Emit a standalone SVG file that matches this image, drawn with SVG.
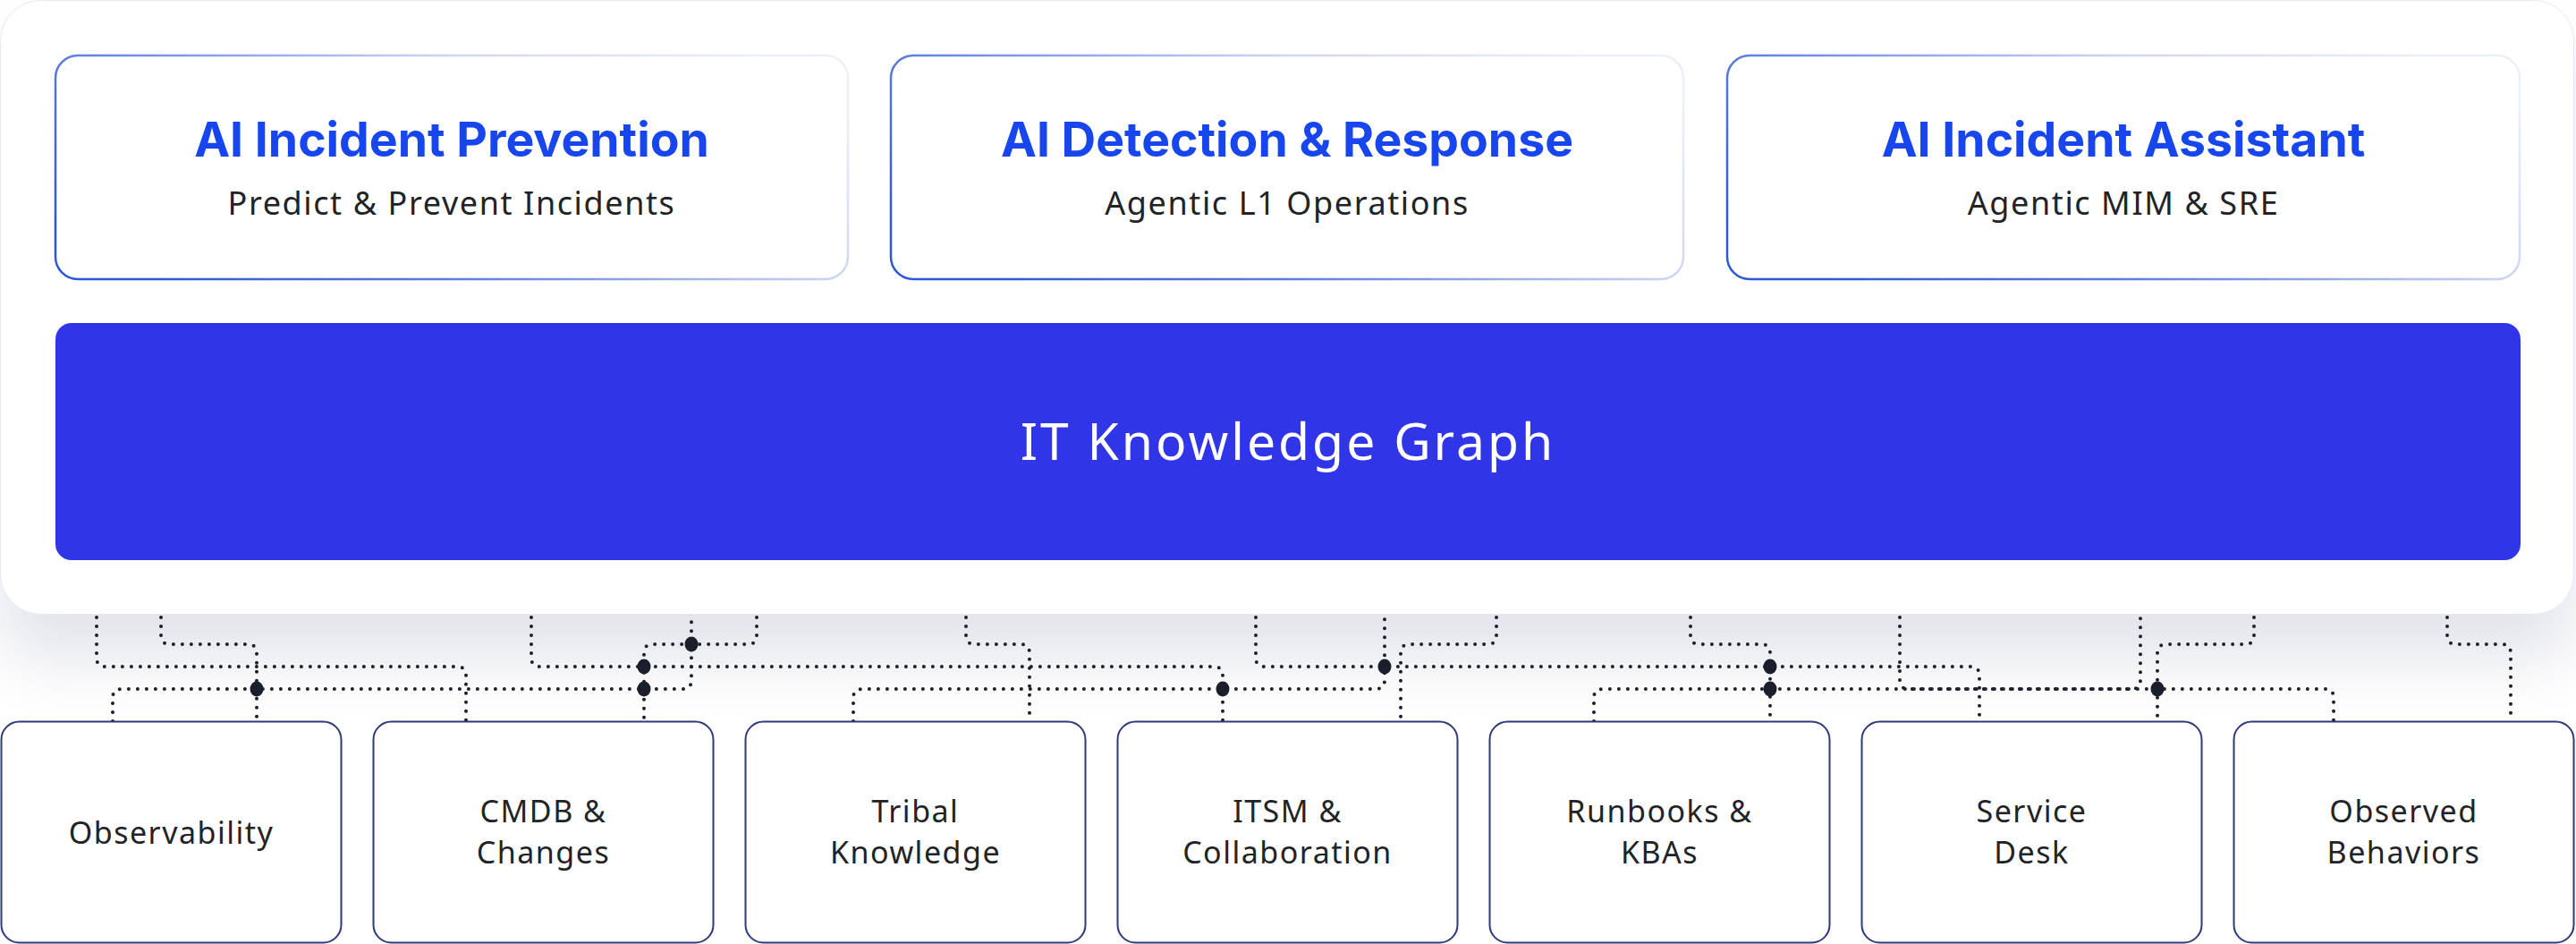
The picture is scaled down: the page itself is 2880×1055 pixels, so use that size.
<svg xmlns="http://www.w3.org/2000/svg" width="2880" height="1055" viewBox="0 0 2880 1055">
  <defs>
    <filter id="shadow" x="-5%" y="-20%" width="110%" height="160%">
      <feGaussianBlur stdDeviation="35"/>
    </filter>
    <linearGradient id="cardStroke" x1="0" y1="0.75" x2="1" y2="0.25">
      <stop offset="0" stop-color="#2d58d6"/>
      <stop offset="0.3" stop-color="#5a7be0"/>
      <stop offset="0.7" stop-color="#cfd6f4"/>
      <stop offset="1" stop-color="#eceef9"/>
    </linearGradient>
  </defs>
  <style>
    .card { fill: #ffffff; stroke: url(#cardStroke); stroke-width: 2.5; }
    .card-title { font-family: Inter, "Noto Sans", sans-serif; font-weight: 700; font-size: 53.5px; fill: #1746ee; text-anchor: middle; }
    .card-sub { font-family: "Noto Sans", "Open Sans", sans-serif; font-size: 36px; letter-spacing: 1.6px; fill: #222326; text-anchor: middle; }
    .kg-text { font-family: "Noto Sans", "Open Sans", sans-serif; font-size: 57px; letter-spacing: 3px; fill: #ffffff; text-anchor: middle; }
    .src { fill: #ffffff; stroke: #2e3a7c; stroke-width: 2; }
    .src-text { font-family: "Noto Sans", "Open Sans", sans-serif; font-size: 34px; letter-spacing: 1.5px; fill: #222326; text-anchor: middle; }
    .dot-line { fill: none; stroke: #1b1e2b; stroke-width: 4; stroke-dasharray: 0 10; stroke-linecap: round; }
    .junction { fill: #1b1e2b; }
  </style>

  <rect width="2880" height="1055" fill="#ffffff"/>

  <!-- panel shadow -->
  <rect x="0" y="50" width="2878" height="687" rx="45" fill="#283060" opacity="0.13" filter="url(#shadow)"/>

  <!-- connectors -->
  <g id="connectors">
    <path class="dot-line" d="M108,680 V735 Q108,745 118,745 H511 Q521,745 521,755 V806"/>
    <path class="dot-line" d="M180,680 V710 Q180,720 190,720 H277 Q287,720 287,730 V806"/>
    <path class="dot-line" d="M126,806 V780 Q126,770 136,770 H763 Q773,770 773,760 V680"/>
    <path class="dot-line" d="M594,680 V735 Q594,745 604,745 H1357 Q1367,745 1367,755 V806"/>
    <path class="dot-line" d="M846,680 V710 Q846,720 836,720 H730 Q720,720 720,730 V806"/>
    <path class="dot-line" d="M1080,680 V710 Q1080,720 1090,720 H1141 Q1151,720 1151,730 V806"/>
    <path class="dot-line" d="M954,806 V780 Q954,770 964,770 H1538 Q1548,770 1548,760 V680"/>
    <path class="dot-line" d="M1404,680 V735 Q1404,745 1414,745 H2203 Q2213,745 2213,755 V806"/>
    <path class="dot-line" d="M1673,680 V710 Q1673,720 1663,720 H1576 Q1566,720 1566,730 V806"/>
    <path class="dot-line" d="M1782,806 V780 Q1782,770 1792,770 H2599 Q2609,770 2609,780 V806"/>
    <path class="dot-line" d="M1890,680 V710 Q1890,720 1900,720 H1969 Q1979,720 1979,730 V806"/>
    <path class="dot-line" d="M2124,680 V760 Q2124,770 2134,770 H2383 Q2393,770 2393,760 V680"/>
    <path class="dot-line" d="M2520,680 V710 Q2520,720 2510,720 H2422 Q2412,720 2412,730 V806"/>
    <path class="dot-line" d="M2736,680 V710 Q2736,720 2746,720 H2797 Q2807,720 2807,730 V806"/>
    <ellipse class="junction" cx="287" cy="770" rx="7.5" ry="8.5"/>
    <ellipse class="junction" cx="720" cy="745" rx="7.5" ry="8.5"/>
    <ellipse class="junction" cx="720" cy="770" rx="7.5" ry="8.5"/>
    <ellipse class="junction" cx="773" cy="720" rx="7.5" ry="8.5"/>
    <ellipse class="junction" cx="1367" cy="770" rx="7.5" ry="8.5"/>
    <ellipse class="junction" cx="1548" cy="745" rx="7.5" ry="8.5"/>
    <ellipse class="junction" cx="1979" cy="745" rx="7.5" ry="8.5"/>
    <ellipse class="junction" cx="1979" cy="770" rx="7.5" ry="8.5"/>
    <ellipse class="junction" cx="2412" cy="770" rx="7.5" ry="8.5"/>
  </g>

  <!-- main panel -->
  <g id="panel">
    <rect x="0.5" y="0.5" width="2877" height="686" rx="45" fill="#ffffff" stroke="#e8e8f3" stroke-width="1"/>
  </g>

  <g id="card-prevention">
    <rect class="card" x="62" y="62" width="886" height="250" rx="25"/>
    <text class="card-title" x="505" y="175">AI Incident Prevention</text>
    <text class="card-sub" x="505" y="240">Predict &amp; Prevent Incidents</text>
  </g>
  <g id="card-detection">
    <rect class="card" x="996" y="62" width="886" height="250" rx="25"/>
    <text class="card-title" x="1439" y="175">AI Detection &amp; Response</text>
    <text class="card-sub" x="1439" y="240">Agentic L1 Operations</text>
  </g>
  <g id="card-assistant">
    <rect class="card" x="1931" y="62" width="886" height="250" rx="25"/>
    <text class="card-title" x="2374" y="175">AI Incident Assistant</text>
    <text class="card-sub" x="2374" y="240">Agentic MIM &amp; SRE</text>
  </g>

  <g id="knowledge-graph">
    <rect x="62" y="361" width="2756" height="265" rx="18" fill="#3035e8"/>
    <text class="kg-text" x="1440" y="514">IT Knowledge Graph</text>
  </g>

  <!-- source boxes -->
  <g id="src-observability">
    <rect class="src" x="1.5" y="806.5" width="380" height="247" rx="20"/>
    <text class="src-text" x="191.5" y="943">Observability</text>
  </g>
  <g id="src-cmdb">
    <rect class="src" x="417.5" y="806.5" width="380" height="247" rx="20"/>
    <text class="src-text" x="607.5" y="919">CMDB &amp;</text>
    <text class="src-text" x="607.5" y="965">Changes</text>
  </g>
  <g id="src-tribal">
    <rect class="src" x="833.5" y="806.5" width="380" height="247" rx="20"/>
    <text class="src-text" x="1023.5" y="919">Tribal</text>
    <text class="src-text" x="1023.5" y="965">Knowledge</text>
  </g>
  <g id="src-itsm">
    <rect class="src" x="1249.5" y="806.5" width="380" height="247" rx="20"/>
    <text class="src-text" x="1439.5" y="919">ITSM &amp;</text>
    <text class="src-text" x="1439.5" y="965">Collaboration</text>
  </g>
  <g id="src-runbooks">
    <rect class="src" x="1665.5" y="806.5" width="380" height="247" rx="20"/>
    <text class="src-text" x="1855.5" y="919">Runbooks &amp;</text>
    <text class="src-text" x="1855.5" y="965">KBAs</text>
  </g>
  <g id="src-servicedesk">
    <rect class="src" x="2081.5" y="806.5" width="380" height="247" rx="20"/>
    <text class="src-text" x="2271.5" y="919">Service</text>
    <text class="src-text" x="2271.5" y="965">Desk</text>
  </g>
  <g id="src-behaviors">
    <rect class="src" x="2497.5" y="806.5" width="380" height="247" rx="20"/>
    <text class="src-text" x="2687.5" y="919">Observed</text>
    <text class="src-text" x="2687.5" y="965">Behaviors</text>
  </g>
</svg>
